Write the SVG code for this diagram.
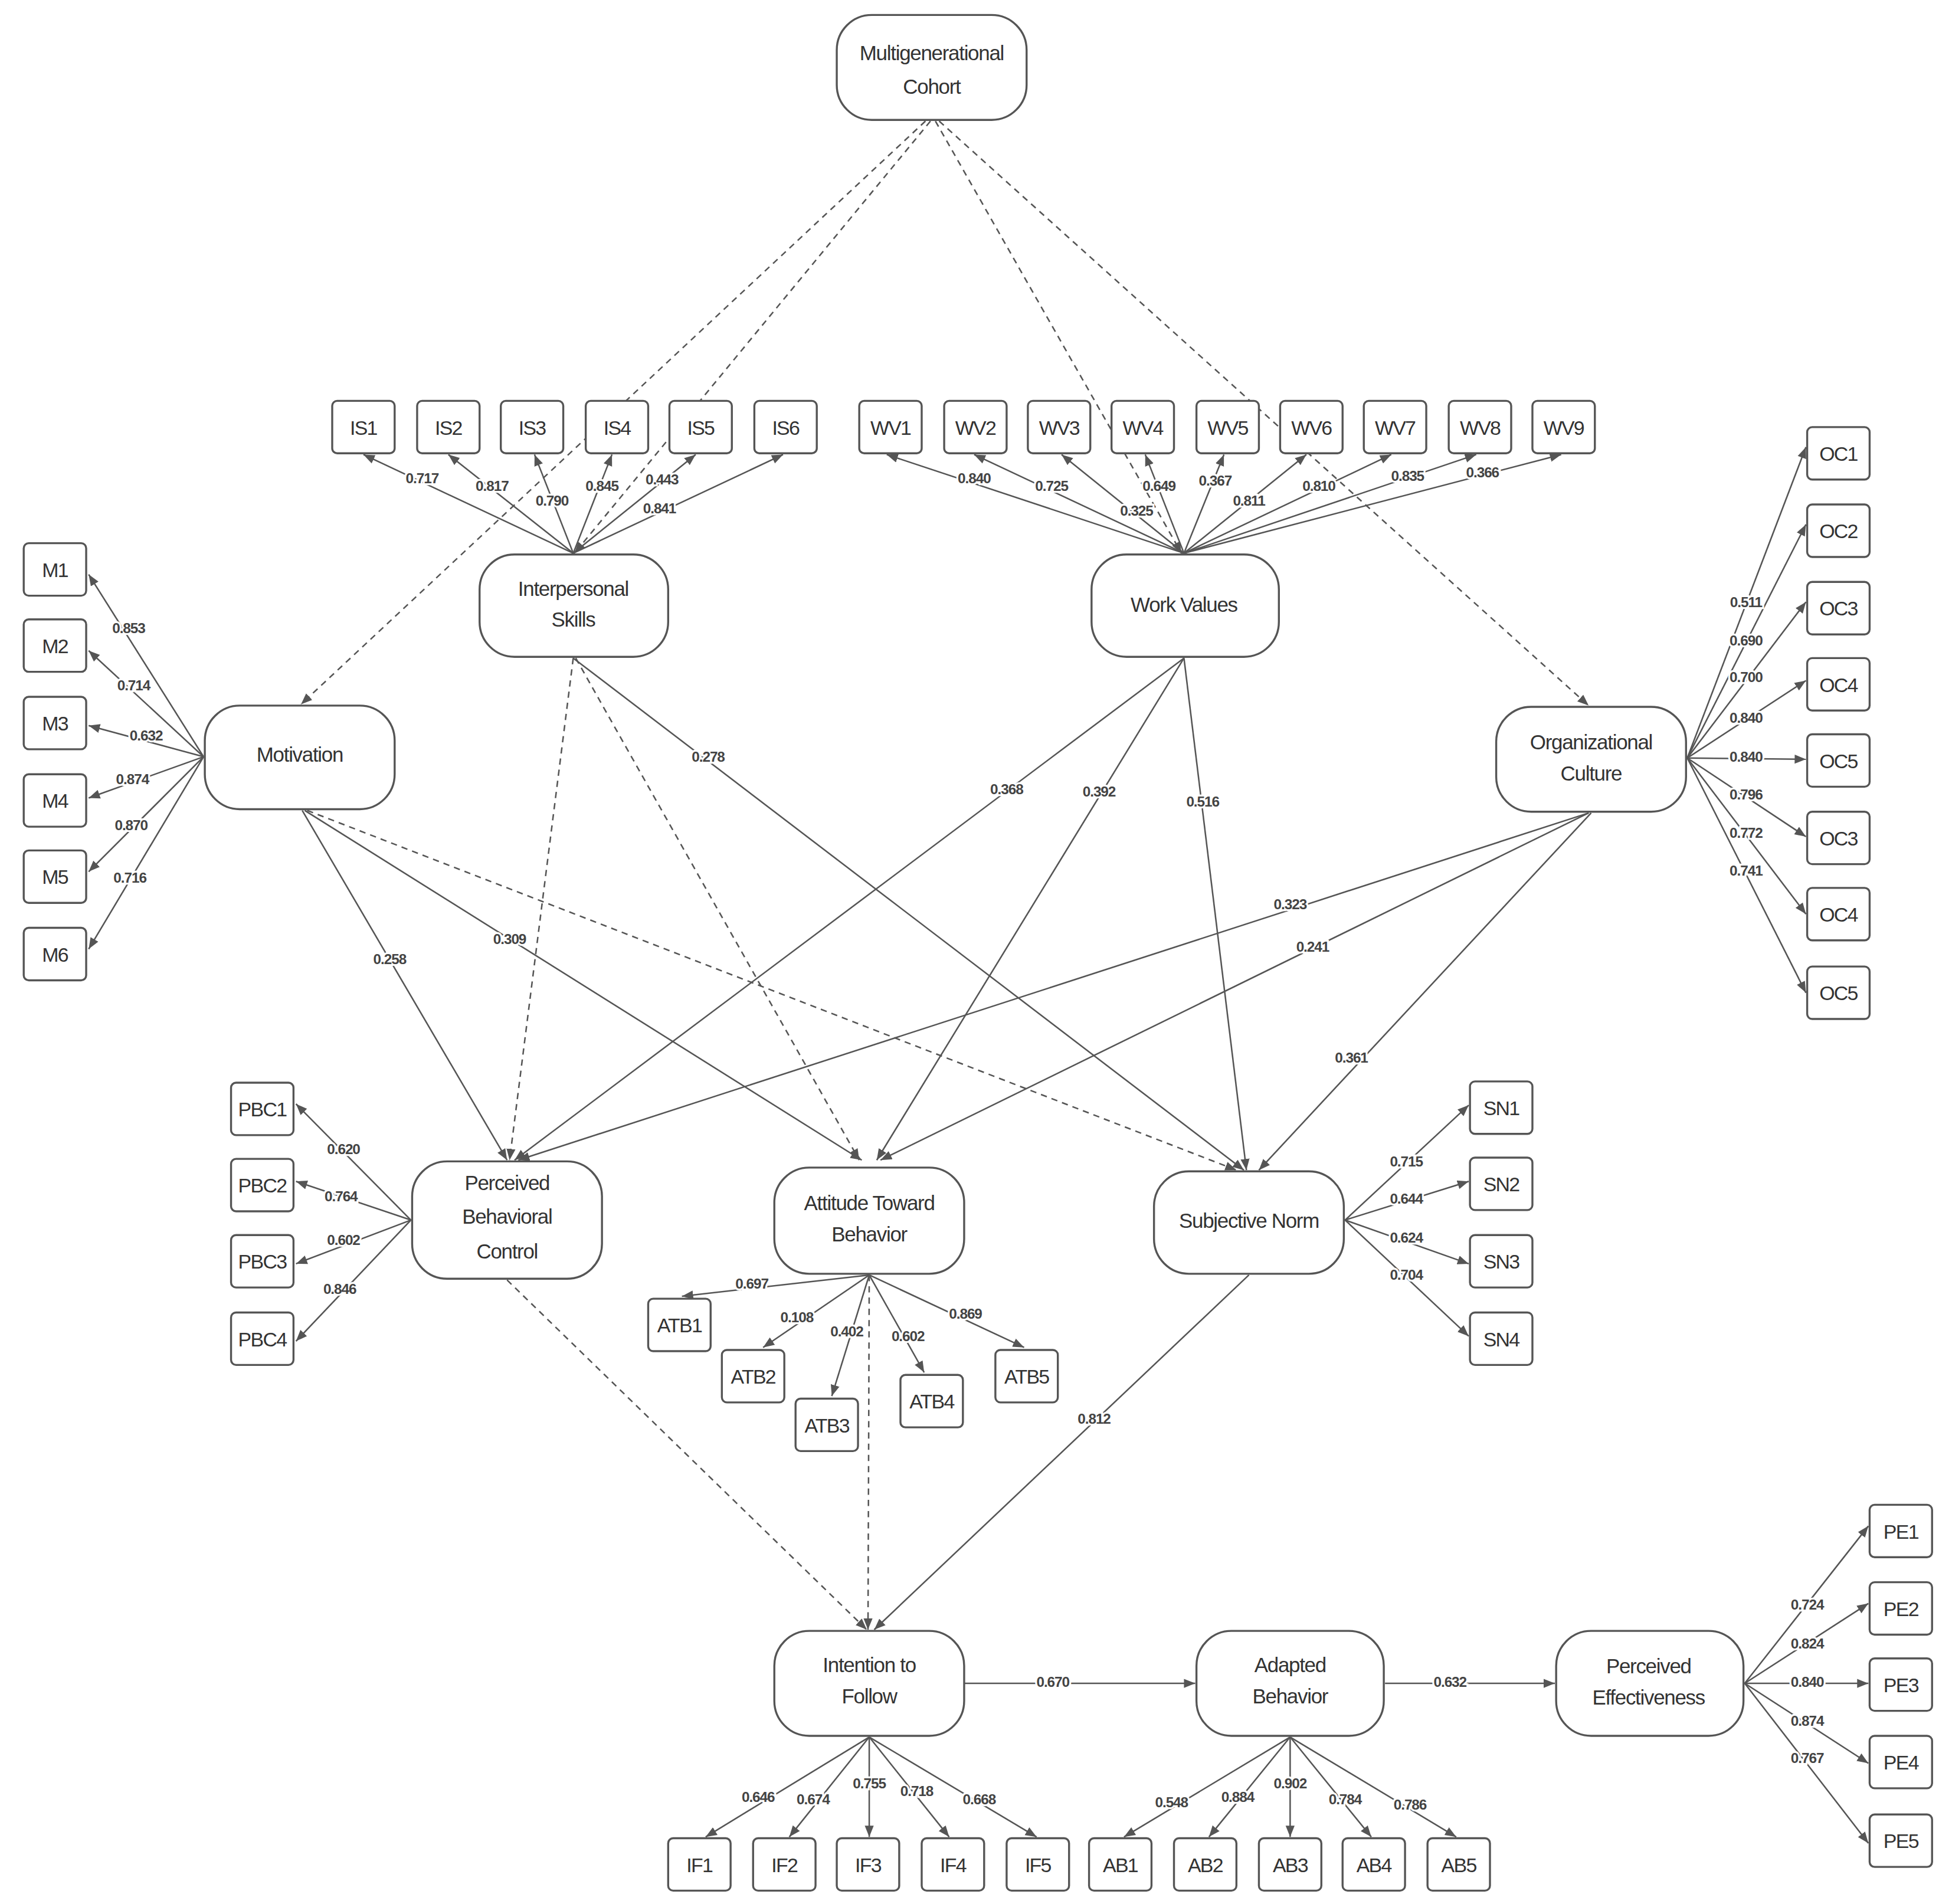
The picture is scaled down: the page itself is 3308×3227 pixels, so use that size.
<svg xmlns="http://www.w3.org/2000/svg" width="3308" height="3227" viewBox="0 0 3308 3227">
<style>
.n rect{fill:#fff;stroke:#555;stroke-width:1.6}
.t{font-family:"Liberation Sans",Arial,sans-serif;font-size:16.5px;fill:#333;text-anchor:middle;letter-spacing:-0.6px}
.bt{font-family:"Liberation Sans",Arial,sans-serif;font-size:16px;fill:#333;text-anchor:middle;letter-spacing:-0.8px}
.c line{stroke:#555;stroke-width:1.2;fill:none;marker-end:url(#a)}
.c line.d{stroke-dasharray:5 4}
.l{font-family:"Liberation Sans",Arial,sans-serif;font-size:11.5px;font-weight:bold;fill:#444;text-anchor:middle;stroke:#fff;stroke-width:3;paint-order:stroke;letter-spacing:-0.5px}
</style>
<defs>
<marker id="a" viewBox="0 0 10 10" refX="10" refY="5" markerWidth="9" markerHeight="9" markerUnits="userSpaceOnUse" orient="auto"><path d="M0,1 L10,5 L0,9 z" fill="#555"/></marker>
</defs>
<rect width="3308" height="3227" fill="#fff"/>
<g transform="scale(2.1165)">
<g class="c">
<line class="d" x1="741" y1="97" x2="241" y2="564"/>
<line class="d" x1="745" y1="97" x2="460" y2="443"/>
<line class="d" x1="749" y1="97" x2="946" y2="443"/>
<line class="d" x1="752" y1="97" x2="1272" y2="565"/>
<line x1="459" y1="443" x2="291" y2="364"/>
<line x1="459" y1="443" x2="359" y2="364"/>
<line x1="459" y1="443" x2="428" y2="364"/>
<line x1="459" y1="443" x2="490" y2="364"/>
<line x1="459" y1="443" x2="557" y2="364"/>
<line x1="459" y1="443" x2="627" y2="364"/>
<line x1="948" y1="443" x2="710" y2="364"/>
<line x1="948" y1="443" x2="780" y2="364"/>
<line x1="948" y1="443" x2="850" y2="364"/>
<line x1="948" y1="443" x2="917" y2="364"/>
<line x1="948" y1="443" x2="980" y2="364"/>
<line x1="948" y1="443" x2="1046" y2="364"/>
<line x1="948" y1="443" x2="1114" y2="364"/>
<line x1="948" y1="443" x2="1182" y2="364"/>
<line x1="948" y1="443" x2="1250" y2="364"/>
<line x1="163" y1="606" x2="71" y2="460"/>
<line x1="163" y1="606" x2="71" y2="521"/>
<line x1="163" y1="606" x2="71" y2="581"/>
<line x1="163" y1="606" x2="71" y2="639"/>
<line x1="163" y1="606" x2="71" y2="698"/>
<line x1="163" y1="606" x2="71" y2="760"/>
<line x1="1351" y1="607" x2="1446" y2="358"/>
<line x1="1351" y1="607" x2="1446" y2="420"/>
<line x1="1351" y1="607" x2="1446" y2="482"/>
<line x1="1351" y1="607" x2="1446" y2="545"/>
<line x1="1351" y1="607" x2="1446" y2="608"/>
<line x1="1351" y1="607" x2="1446" y2="670"/>
<line x1="1351" y1="607" x2="1446" y2="732"/>
<line x1="1351" y1="607" x2="1446" y2="795"/>
<line x1="329" y1="977" x2="237" y2="884"/>
<line x1="329" y1="977" x2="237" y2="946"/>
<line x1="329" y1="977" x2="237" y2="1012"/>
<line x1="329" y1="977" x2="237" y2="1074"/>
<line x1="1077" y1="977" x2="1176" y2="885"/>
<line x1="1077" y1="977" x2="1176" y2="946"/>
<line x1="1077" y1="977" x2="1176" y2="1012"/>
<line x1="1077" y1="977" x2="1176" y2="1070"/>
<line x1="696" y1="1021" x2="546" y2="1038"/>
<line x1="696" y1="1021" x2="611" y2="1079"/>
<line x1="696" y1="1021" x2="666" y2="1118"/>
<line x1="696" y1="1021" x2="740" y2="1099"/>
<line x1="696" y1="1021" x2="820" y2="1079"/>
<line class="d" x1="459" y1="527" x2="408" y2="929"/>
<line class="d" x1="461" y1="527" x2="688" y2="929"/>
<line x1="459" y1="527" x2="996" y2="937"/>
<line x1="948" y1="527" x2="412" y2="929"/>
<line x1="948" y1="527" x2="702" y2="929"/>
<line x1="948" y1="527" x2="998" y2="937"/>
<line x1="242" y1="649" x2="406" y2="929"/>
<line x1="244" y1="649" x2="690" y2="929"/>
<line class="d" x1="246" y1="649" x2="990" y2="937"/>
<line x1="1272" y1="651" x2="415" y2="929"/>
<line x1="1272" y1="651" x2="705" y2="929"/>
<line x1="1274" y1="651" x2="1008" y2="937"/>
<line class="d" x1="406" y1="1025" x2="694" y2="1305"/>
<line class="d" x1="696" y1="1021" x2="695" y2="1305"/>
<line x1="1000" y1="1021" x2="700" y2="1305"/>
<line x1="772" y1="1348" x2="957" y2="1348"/>
<line x1="1109" y1="1348" x2="1245" y2="1348"/>
<line x1="696" y1="1391" x2="565" y2="1471"/>
<line x1="696" y1="1391" x2="632" y2="1471"/>
<line x1="696" y1="1391" x2="696" y2="1471"/>
<line x1="696" y1="1391" x2="760" y2="1471"/>
<line x1="696" y1="1391" x2="830" y2="1471"/>
<line x1="1033" y1="1391" x2="900" y2="1471"/>
<line x1="1033" y1="1391" x2="968" y2="1471"/>
<line x1="1033" y1="1391" x2="1033" y2="1471"/>
<line x1="1033" y1="1391" x2="1098" y2="1471"/>
<line x1="1033" y1="1391" x2="1166" y2="1471"/>
<line x1="1397" y1="1348" x2="1496" y2="1222"/>
<line x1="1397" y1="1348" x2="1496" y2="1284"/>
<line x1="1397" y1="1348" x2="1496" y2="1348"/>
<line x1="1397" y1="1348" x2="1496" y2="1412"/>
<line x1="1397" y1="1348" x2="1496" y2="1476"/>
</g>
<g class="labels">
<text class="l" x="338" y="387">0.717</text><text class="l" x="394" y="393">0.817</text><text class="l" x="442" y="405">0.790</text><text class="l" x="482" y="393">0.845</text><text class="l" x="530" y="388">0.443</text><text class="l" x="528" y="411">0.841</text>
<text class="l" x="780" y="387">0.840</text><text class="l" x="842" y="393">0.725</text><text class="l" x="910" y="413">0.325</text><text class="l" x="928" y="393">0.649</text><text class="l" x="973" y="389">0.367</text><text class="l" x="1000" y="405">0.811</text><text class="l" x="1056" y="393">0.810</text><text class="l" x="1127" y="385">0.835</text><text class="l" x="1187" y="382">0.366</text>
<text class="l" x="103" y="507">0.853</text><text class="l" x="107" y="553">0.714</text><text class="l" x="117" y="593">0.632</text><text class="l" x="106" y="628">0.874</text><text class="l" x="105" y="665">0.870</text><text class="l" x="104" y="707">0.716</text>
<text class="l" x="1398" y="486">0.511</text><text class="l" x="1398" y="517">0.690</text><text class="l" x="1398" y="546">0.700</text><text class="l" x="1398" y="579">0.840</text><text class="l" x="1398" y="610">0.840</text><text class="l" x="1398" y="640">0.796</text><text class="l" x="1398" y="671">0.772</text><text class="l" x="1398" y="701">0.741</text>
<text class="l" x="275" y="924">0.620</text><text class="l" x="273" y="962">0.764</text><text class="l" x="275" y="997">0.602</text><text class="l" x="272" y="1036">0.846</text>
<text class="l" x="1126" y="934">0.715</text><text class="l" x="1126" y="964">0.644</text><text class="l" x="1126" y="995">0.624</text><text class="l" x="1126" y="1025">0.704</text>
<text class="l" x="602" y="1032">0.697</text><text class="l" x="638" y="1059">0.108</text><text class="l" x="678" y="1070">0.402</text><text class="l" x="727" y="1074">0.602</text><text class="l" x="773" y="1056">0.869</text>
<text class="l" x="567" y="610">0.278</text><text class="l" x="806" y="636">0.368</text><text class="l" x="880" y="638">0.392</text><text class="l" x="963" y="646">0.516</text><text class="l" x="312" y="772">0.258</text><text class="l" x="408" y="756">0.309</text><text class="l" x="1033" y="728">0.323</text><text class="l" x="1051" y="762">0.241</text><text class="l" x="1082" y="851">0.361</text><text class="l" x="876" y="1140">0.812</text><text class="l" x="843" y="1351">0.670</text><text class="l" x="1161" y="1351">0.632</text>
<text class="l" x="607" y="1443">0.646</text><text class="l" x="651" y="1445">0.674</text><text class="l" x="696" y="1432">0.755</text><text class="l" x="734" y="1438">0.718</text><text class="l" x="784" y="1445">0.668</text>
<text class="l" x="938" y="1447">0.548</text><text class="l" x="991" y="1443">0.884</text><text class="l" x="1033" y="1432">0.902</text><text class="l" x="1077" y="1445">0.784</text><text class="l" x="1129" y="1449">0.786</text>
<text class="l" x="1447" y="1289">0.724</text><text class="l" x="1447" y="1320">0.824</text><text class="l" x="1447" y="1351">0.840</text><text class="l" x="1447" y="1382">0.874</text><text class="l" x="1447" y="1412">0.767</text>
</g>
<g id="MC" class="n"><rect x="670" y="12" width="152" height="84" rx="28"/><text class="t" x="746" y="48">Multigenerational</text><text class="t" x="746" y="75">Cohort</text></g>
<g id="IS" class="n"><rect x="384" y="444" width="151" height="82" rx="28"/><text class="t" x="459" y="477">Interpersonal</text><text class="t" x="459" y="502">Skills</text></g>
<g id="WV" class="n"><rect x="874" y="444" width="150" height="82" rx="28"/><text class="t" x="948" y="490">Work Values</text></g>
<g id="MOT" class="n"><rect x="164" y="565" width="152" height="83" rx="28"/><text class="t" x="240" y="610">Motivation</text></g>
<g id="OC" class="n"><rect x="1198" y="566" width="152" height="84" rx="28"/><text class="t" x="1274" y="600">Organizational</text><text class="t" x="1274" y="625">Culture</text></g>
<g id="PBC" class="n"><rect x="330" y="930" width="152" height="94" rx="28"/><text class="t" x="406" y="953">Perceived</text><text class="t" x="406" y="980">Behavioral</text><text class="t" x="406" y="1008">Control</text></g>
<g id="ATB" class="n"><rect x="620" y="935" width="152" height="85" rx="28"/><text class="t" x="696" y="969">Attitude Toward</text><text class="t" x="696" y="994">Behavior</text></g>
<g id="SN" class="n"><rect x="924" y="938" width="152" height="82" rx="28"/><text class="t" x="1000" y="983">Subjective Norm</text></g>
<g id="IF" class="n"><rect x="620" y="1306" width="152" height="84" rx="28"/><text class="t" x="696" y="1339">Intention to</text><text class="t" x="696" y="1364">Follow</text></g>
<g id="AB" class="n"><rect x="958" y="1306" width="150" height="84" rx="28"/><text class="t" x="1033" y="1339">Adapted</text><text class="t" x="1033" y="1364">Behavior</text></g>
<g id="PE" class="n"><rect x="1246" y="1306" width="150" height="84" rx="28"/><text class="t" x="1320" y="1340">Perceived</text><text class="t" x="1320" y="1365">Effectiveness</text></g>
<g id="IS1" class="n"><rect x="266" y="321" width="50" height="42" rx="4"/><text class="bt" x="291" y="348">IS1</text></g>
<g id="IS2" class="n"><rect x="334" y="321" width="50" height="42" rx="4"/><text class="bt" x="359" y="348">IS2</text></g>
<g id="IS3" class="n"><rect x="401" y="321" width="50" height="42" rx="4"/><text class="bt" x="426" y="348">IS3</text></g>
<g id="IS4" class="n"><rect x="469" y="321" width="50" height="42" rx="4"/><text class="bt" x="494" y="348">IS4</text></g>
<g id="IS5" class="n"><rect x="536" y="321" width="50" height="42" rx="4"/><text class="bt" x="561" y="348">IS5</text></g>
<g id="IS6" class="n"><rect x="604" y="321" width="50" height="42" rx="4"/><text class="bt" x="629" y="348">IS6</text></g>
<g id="WV1" class="n"><rect x="688" y="321" width="50" height="42" rx="4"/><text class="bt" x="713" y="348">WV1</text></g>
<g id="WV2" class="n"><rect x="756" y="321" width="50" height="42" rx="4"/><text class="bt" x="781" y="348">WV2</text></g>
<g id="WV3" class="n"><rect x="823" y="321" width="50" height="42" rx="4"/><text class="bt" x="848" y="348">WV3</text></g>
<g id="WV4" class="n"><rect x="890" y="321" width="50" height="42" rx="4"/><text class="bt" x="915" y="348">WV4</text></g>
<g id="WV5" class="n"><rect x="958" y="321" width="50" height="42" rx="4"/><text class="bt" x="983" y="348">WV5</text></g>
<g id="WV6" class="n"><rect x="1025" y="321" width="50" height="42" rx="4"/><text class="bt" x="1050" y="348">WV6</text></g>
<g id="WV7" class="n"><rect x="1092" y="321" width="50" height="42" rx="4"/><text class="bt" x="1117" y="348">WV7</text></g>
<g id="WV8" class="n"><rect x="1160" y="321" width="50" height="42" rx="4"/><text class="bt" x="1185" y="348">WV8</text></g>
<g id="WV9" class="n"><rect x="1227" y="321" width="50" height="42" rx="4"/><text class="bt" x="1252" y="348">WV9</text></g>
<g id="M1" class="n"><rect x="19" y="435" width="50" height="42" rx="4"/><text class="bt" x="44" y="462">M1</text></g>
<g id="M2" class="n"><rect x="19" y="496" width="50" height="42" rx="4"/><text class="bt" x="44" y="523">M2</text></g>
<g id="M3" class="n"><rect x="19" y="558" width="50" height="42" rx="4"/><text class="bt" x="44" y="585">M3</text></g>
<g id="M4" class="n"><rect x="19" y="620" width="50" height="42" rx="4"/><text class="bt" x="44" y="647">M4</text></g>
<g id="M5" class="n"><rect x="19" y="681" width="50" height="42" rx="4"/><text class="bt" x="44" y="708">M5</text></g>
<g id="M6" class="n"><rect x="19" y="743" width="50" height="42" rx="4"/><text class="bt" x="44" y="770">M6</text></g>
<g id="OC1" class="n"><rect x="1447" y="342" width="50" height="42" rx="4"/><text class="bt" x="1472" y="369">OC1</text></g>
<g id="OC2" class="n"><rect x="1447" y="404" width="50" height="42" rx="4"/><text class="bt" x="1472" y="431">OC2</text></g>
<g id="OC3a" class="n"><rect x="1447" y="466" width="50" height="42" rx="4"/><text class="bt" x="1472" y="493">OC3</text></g>
<g id="OC4a" class="n"><rect x="1447" y="527" width="50" height="42" rx="4"/><text class="bt" x="1472" y="554">OC4</text></g>
<g id="OC5a" class="n"><rect x="1447" y="588" width="50" height="42" rx="4"/><text class="bt" x="1472" y="615">OC5</text></g>
<g id="OC3b" class="n"><rect x="1447" y="650" width="50" height="42" rx="4"/><text class="bt" x="1472" y="677">OC3</text></g>
<g id="OC4b" class="n"><rect x="1447" y="711" width="50" height="42" rx="4"/><text class="bt" x="1472" y="738">OC4</text></g>
<g id="OC5b" class="n"><rect x="1447" y="774" width="50" height="42" rx="4"/><text class="bt" x="1472" y="801">OC5</text></g>
<g id="PBC1" class="n"><rect x="185" y="867" width="50" height="42" rx="4"/><text class="bt" x="210" y="894">PBC1</text></g>
<g id="PBC2" class="n"><rect x="185" y="928" width="50" height="42" rx="4"/><text class="bt" x="210" y="955">PBC2</text></g>
<g id="PBC3" class="n"><rect x="185" y="989" width="50" height="42" rx="4"/><text class="bt" x="210" y="1016">PBC3</text></g>
<g id="PBC4" class="n"><rect x="185" y="1051" width="50" height="42" rx="4"/><text class="bt" x="210" y="1078">PBC4</text></g>
<g id="SN1" class="n"><rect x="1177" y="866" width="50" height="42" rx="4"/><text class="bt" x="1202" y="893">SN1</text></g>
<g id="SN2" class="n"><rect x="1177" y="927" width="50" height="42" rx="4"/><text class="bt" x="1202" y="954">SN2</text></g>
<g id="SN3" class="n"><rect x="1177" y="989" width="50" height="42" rx="4"/><text class="bt" x="1202" y="1016">SN3</text></g>
<g id="SN4" class="n"><rect x="1177" y="1051" width="50" height="42" rx="4"/><text class="bt" x="1202" y="1078">SN4</text></g>
<g id="ATB1" class="n"><rect x="519" y="1040" width="50" height="42" rx="4"/><text class="bt" x="544" y="1067">ATB1</text></g>
<g id="ATB2" class="n"><rect x="578" y="1081" width="50" height="42" rx="4"/><text class="bt" x="603" y="1108">ATB2</text></g>
<g id="ATB3" class="n"><rect x="637" y="1120" width="50" height="42" rx="4"/><text class="bt" x="662" y="1147">ATB3</text></g>
<g id="ATB4" class="n"><rect x="721" y="1101" width="50" height="42" rx="4"/><text class="bt" x="746" y="1128">ATB4</text></g>
<g id="ATB5" class="n"><rect x="797" y="1081" width="50" height="42" rx="4"/><text class="bt" x="822" y="1108">ATB5</text></g>
<g id="IF1" class="n"><rect x="535" y="1472" width="50" height="42" rx="4"/><text class="bt" x="560" y="1499">IF1</text></g>
<g id="IF2" class="n"><rect x="603" y="1472" width="50" height="42" rx="4"/><text class="bt" x="628" y="1499">IF2</text></g>
<g id="IF3" class="n"><rect x="670" y="1472" width="50" height="42" rx="4"/><text class="bt" x="695" y="1499">IF3</text></g>
<g id="IF4" class="n"><rect x="738" y="1472" width="50" height="42" rx="4"/><text class="bt" x="763" y="1499">IF4</text></g>
<g id="IF5" class="n"><rect x="806" y="1472" width="50" height="42" rx="4"/><text class="bt" x="831" y="1499">IF5</text></g>
<g id="AB1" class="n"><rect x="872" y="1472" width="50" height="42" rx="4"/><text class="bt" x="897" y="1499">AB1</text></g>
<g id="AB2" class="n"><rect x="940" y="1472" width="50" height="42" rx="4"/><text class="bt" x="965" y="1499">AB2</text></g>
<g id="AB3" class="n"><rect x="1008" y="1472" width="50" height="42" rx="4"/><text class="bt" x="1033" y="1499">AB3</text></g>
<g id="AB4" class="n"><rect x="1075" y="1472" width="50" height="42" rx="4"/><text class="bt" x="1100" y="1499">AB4</text></g>
<g id="AB5" class="n"><rect x="1143" y="1472" width="50" height="42" rx="4"/><text class="bt" x="1168" y="1499">AB5</text></g>
<g id="PE1" class="n"><rect x="1497" y="1205" width="50" height="42" rx="4"/><text class="bt" x="1522" y="1232">PE1</text></g>
<g id="PE2" class="n"><rect x="1497" y="1267" width="50" height="42" rx="4"/><text class="bt" x="1522" y="1294">PE2</text></g>
<g id="PE3" class="n"><rect x="1497" y="1328" width="50" height="42" rx="4"/><text class="bt" x="1522" y="1355">PE3</text></g>
<g id="PE4" class="n"><rect x="1497" y="1390" width="50" height="42" rx="4"/><text class="bt" x="1522" y="1417">PE4</text></g>
<g id="PE5" class="n"><rect x="1497" y="1453" width="50" height="42" rx="4"/><text class="bt" x="1522" y="1480">PE5</text></g>
</g>
</svg>
